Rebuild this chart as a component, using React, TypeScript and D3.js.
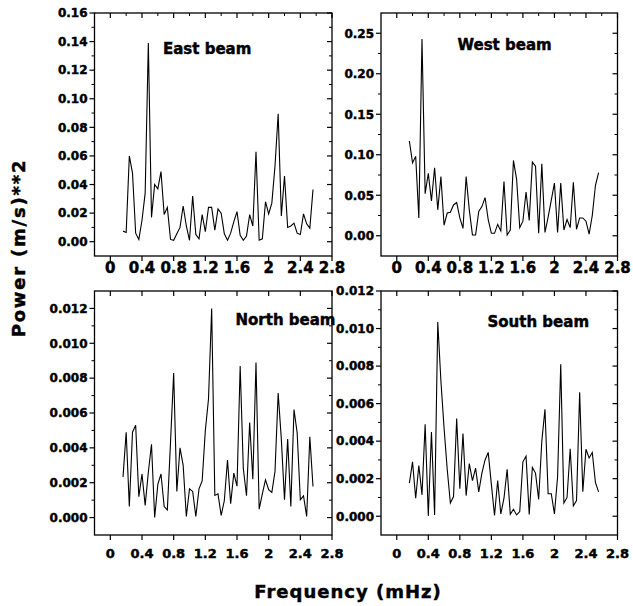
import React from "react";
import * as d3 from "d3";

// ---------- data ----------
const FREQ = [
  0.16, 0.2, 0.24, 0.28, 0.32, 0.36, 0.4, 0.44, 0.48, 0.52,
  0.56, 0.6, 0.64, 0.68, 0.72, 0.76, 0.8, 0.84, 0.88, 0.92,
  0.96, 1.0, 1.04, 1.08, 1.12, 1.16, 1.2, 1.24, 1.28, 1.32,
  1.36, 1.4, 1.44, 1.48, 1.52, 1.56, 1.6, 1.64, 1.68, 1.72,
  1.76, 1.8, 1.84, 1.88, 1.92, 1.96, 2.0, 2.04, 2.08, 2.12,
  2.16, 2.2, 2.24, 2.28, 2.32, 2.36, 2.4, 2.44, 2.48, 2.52,
  2.56,
];

const EAST = [
  0.0074, 0.0065, 0.06, 0.048, 0.006, 0.0016, 0.015, 0.034, 0.139, 0.017,
  0.04, 0.037, 0.049, 0.019, 0.024, 0.0016, 0.001, 0.0055, 0.01, 0.025,
  0.011, 0.001, 0.032, 0.005, 0.002, 0.019, 0.007, 0.024, 0.024, 0.008,
  0.023, 0.02, 0.0055, 0.001, 0.006, 0.014, 0.021, 0.0045, 0.001, 0.004,
  0.019, 0.011, 0.063, 0.001, 0.002, 0.028, 0.0195, 0.027, 0.053, 0.0895,
  0.018, 0.046, 0.01, 0.011, 0.013, 0.006, 0.005, 0.0195, 0.0125, 0.0095,
  0.0365,
];

const WEST = [
  0.117, 0.09, 0.098, 0.022, 0.243, 0.052, 0.077, 0.043, 0.084, 0.032,
  0.073, 0.013, 0.028, 0.029, 0.038, 0.041, 0.022, 0.009, 0.073, 0.032,
  0.001, 0.001, 0.03, 0.036, 0.047, 0.02, 0.003, 0.003, 0.014, 0.006,
  0.067, 0.001, 0.007, 0.093, 0.07, 0.01, 0.018, 0.054, 0.019, 0.091,
  0.086, 0.003, 0.089, 0.004, 0.023, 0.044, 0.065, 0.004, 0.065, 0.007,
  0.02, 0.01, 0.066, 0.008, 0.022, 0.022, 0.018, 0.002, 0.025, 0.062,
  0.078,
];

const NORTH = [
  0.00232, 0.0049, 0.00063, 0.0049, 0.0053, 0.0012, 0.0025, 0.0007, 0.0026, 0.0042,
  0.0, 0.0019, 0.0025, 0.00063, 0.00044, 0.0043, 0.0083, 0.0015, 0.004, 0.003,
  0.00006, 0.00165, 0.0015, 0.00006, 0.00165, 0.0021, 0.005, 0.0068, 0.012, 0.00127,
  0.00136, 0.00012, 0.00098, 0.0033, 0.0008, 0.00255, 0.0018, 0.0087, 0.0028, 0.00125,
  0.00546, 0.0022, 0.0089, 0.00048, 0.00136, 0.00217, 0.0016, 0.00144, 0.00265, 0.00715,
  0.0045, 0.00102, 0.0045, 0.00063, 0.0062, 0.00485, 0.00102, 0.00125, 0.00006, 0.00464,
  0.00178,
];

const SOUTH = [
  0.00176, 0.0029, 0.00096, 0.0027, 0.00114, 0.0049, 0.00002, 0.00448, 0.00007, 0.01035,
  0.0072, 0.0047, 0.0025, 0.0007, 0.00105, 0.0052, 0.00146, 0.0044, 0.0011, 0.0028,
  0.0019, 0.00256, 0.0013, 0.0023, 0.003, 0.0034, 0.0017, 0.00004, 0.0019, 0.00012,
  0.00096, 0.0025, 0.0001, 0.00037, 0.00007, 0.00025, 0.0029, 0.0032, 0.0001, 0.0026,
  0.0023, 0.0009, 0.004, 0.0057, 0.0012, 0.0012, 0.00012, 0.0021, 0.0081, 0.0007,
  0.001, 0.0036, 0.00055, 0.00083, 0.0066, 0.0013, 0.00357, 0.0031, 0.0034, 0.0018,
  0.0013,
];

const X_TICKS = [0, 0.4, 0.8, 1.2, 1.6, 2.0, 2.4, 2.8];
const X_TICK_LABELS = ["0", "0.4", "0.8", "1.2", "1.6", "2", "2.4", "2.8"];
const X_MINOR = [0.2, 0.6, 1.0, 1.4, 1.8, 2.2, 2.6];

const EAST_Y_TICKS = [0, 0.02, 0.04, 0.06, 0.08, 0.1, 0.12, 0.14, 0.16];
const EAST_Y_LABELS = ["0.00", "0.02", "0.04", "0.06", "0.08", "0.10", "0.12", "0.14", "0.16"];
const EAST_Y_MINOR = [0.01, 0.03, 0.05, 0.07, 0.09, 0.11, 0.13, 0.15];

const WEST_Y_TICKS = [0, 0.05, 0.1, 0.15, 0.2, 0.25];
const WEST_Y_LABELS = ["0.00", "0.05", "0.10", "0.15", "0.20", "0.25"];
const WEST_Y_MINOR = [0.025, 0.075, 0.125, 0.175, 0.225];

const SMALL_Y_TICKS = [0, 0.002, 0.004, 0.006, 0.008, 0.01, 0.012];
const SMALL_Y_LABELS = ["0.000", "0.002", "0.004", "0.006", "0.008", "0.010", "0.012"];
const SMALL_Y_MINOR = [0.001, 0.003, 0.005, 0.007, 0.009, 0.011];

const FONT = "'DejaVu Sans', sans-serif";
const HEAVY = { stroke: "#000", strokeWidth: 0.45 };

type PanelProps = {
  title: string;
  values: number[];
  left: number;
  right: number;
  top: number;
  bottom: number;
  yDomain: [number, number];
  yTicks: number[];
  yLabels: string[];
  yMinor: number[];
  titleX: number;
  titleY: number;
  xLabelSize: number;
  xLabelBaseline: number;
  topMinor: boolean;
};

function Panel(p: PanelProps) {
  const x = d3.scaleLinear().domain([-0.2, 2.8]).range([p.left, p.right]);
  const y = d3.scaleLinear().domain(p.yDomain).range([p.bottom, p.top]);
  const line = d3
    .line<number>()
    .x((_, i) => x(FREQ[i]))
    .y((d) => y(d));
  const maj = 5;
  const min = 3;
  return (
    <g>
      <path d={line(p.values) || ""} fill="none" stroke="#000" strokeWidth={1.1} />
      <rect
        x={p.left}
        y={p.top}
        width={p.right - p.left}
        height={p.bottom - p.top}
        fill="none"
        stroke="#000"
        strokeWidth={1.3}
      />
      {p.yTicks.map((t) => (
        <line key={"yl" + t} x1={p.left - maj} x2={p.left} y1={y(t)} y2={y(t)} stroke="#000" strokeWidth={1.2} />
      ))}
      {p.yMinor.map((t) => (
        <line key={"yml" + t} x1={p.left - min} x2={p.left} y1={y(t)} y2={y(t)} stroke="#000" strokeWidth={1} />
      ))}
      {p.yTicks.map((t) => (
        <line key={"yr" + t} x1={p.right - maj} x2={p.right} y1={y(t)} y2={y(t)} stroke="#000" strokeWidth={1.2} />
      ))}
      {p.yMinor.map((t) => (
        <line key={"ymr" + t} x1={p.right - min} x2={p.right} y1={y(t)} y2={y(t)} stroke="#000" strokeWidth={1} />
      ))}
      {X_TICKS.map((t) => (
        <line key={"xb" + t} x1={x(t)} x2={x(t)} y1={p.bottom} y2={p.bottom + maj} stroke="#000" strokeWidth={1.2} />
      ))}
      {X_TICKS.map((t) => (
        <line key={"xt" + t} x1={x(t)} x2={x(t)} y1={p.top} y2={p.top + maj} stroke="#000" strokeWidth={1.2} />
      ))}
      {p.topMinor &&
        X_MINOR.map((t) => (
          <line key={"xtm" + t} x1={x(t)} x2={x(t)} y1={p.top} y2={p.top + min} stroke="#000" strokeWidth={1} />
        ))}
      {p.yTicks.map((t, i) => (
        <text
          key={"ylab" + t}
          x={p.left - 7}
          y={y(t)}
          dy="0.36em"
          textAnchor="end"
          fontFamily={FONT}
          fontWeight="bold"
          fontSize={12}
          fill="#000"
          {...HEAVY}
        >
          {p.yLabels[i]}
        </text>
      ))}
      {X_TICKS.map((t, i) => (
        <text
          key={"xlab" + t}
          x={x(t)}
          y={p.xLabelBaseline}
          textAnchor="middle"
          fontFamily={FONT}
          fontWeight="bold"
          fontSize={p.xLabelSize}
          fill="#000"
          {...HEAVY}
        >
          {X_TICK_LABELS[i]}
        </text>
      ))}
      <text
        x={p.titleX}
        y={p.titleY}
        fontFamily={FONT}
        fontWeight="bold"
        fontSize={15}
        fill="#000"
        {...HEAVY}
      >
        {p.title}
      </text>
    </g>
  );
}

export default function App() {
  return (
    <svg
      width={633}
      height={606}
      style={{ position: "absolute", left: 0, top: 0, background: "#fff" }}
    >
      <rect x={0} y={0} width={633} height={606} fill="#fff" />
      <Panel
        title="East beam"
        values={EAST}
        left={94.5}
        right={332}
        top={13}
        bottom={256}
        yDomain={[-0.01, 0.16]}
        yTicks={EAST_Y_TICKS}
        yLabels={EAST_Y_LABELS}
        yMinor={EAST_Y_MINOR}
        titleX={163}
        titleY={54}
        xLabelSize={15}
        xLabelBaseline={272.5}
        topMinor={true}
      />
      <Panel
        title="West beam"
        values={WEST}
        left={381}
        right={617.5}
        top={13}
        bottom={256}
        yDomain={[-0.025, 0.275]}
        yTicks={WEST_Y_TICKS}
        yLabels={WEST_Y_LABELS}
        yMinor={WEST_Y_MINOR}
        titleX={457.5}
        titleY={50}
        xLabelSize={15}
        xLabelBaseline={272.5}
        topMinor={true}
      />
      <Panel
        title="North beam"
        values={NORTH}
        left={94.5}
        right={332}
        top={291}
        bottom={535}
        yDomain={[-0.001, 0.013]}
        yTicks={SMALL_Y_TICKS}
        yLabels={SMALL_Y_LABELS}
        yMinor={SMALL_Y_MINOR}
        titleX={235.5}
        titleY={325}
        xLabelSize={13}
        xLabelBaseline={558}
        topMinor={false}
      />
      <Panel
        title="South beam"
        values={SOUTH}
        left={381}
        right={617.5}
        top={291}
        bottom={535}
        yDomain={[-0.001, 0.012]}
        yTicks={SMALL_Y_TICKS}
        yLabels={SMALL_Y_LABELS}
        yMinor={SMALL_Y_MINOR}
        titleX={487.5}
        titleY={326.5}
        xLabelSize={13}
        xLabelBaseline={558}
        topMinor={false}
      />
      <text
        x={348}
        y={597.5}
        textAnchor="middle"
        fontFamily={FONT}
        fontWeight="bold"
        fontSize={18}
        letterSpacing={1}
        fill="#000"
        {...HEAVY}
      >
        Frequency (mHz)
      </text>
      <text
        transform="translate(25,248) rotate(-90)"
        textAnchor="middle"
        fontFamily={FONT}
        fontWeight="bold"
        fontSize={18}
        letterSpacing={1.8}
        fill="#000"
        {...HEAVY}
      >
        Power (m/s)**2
      </text>
    </svg>
  );
}
